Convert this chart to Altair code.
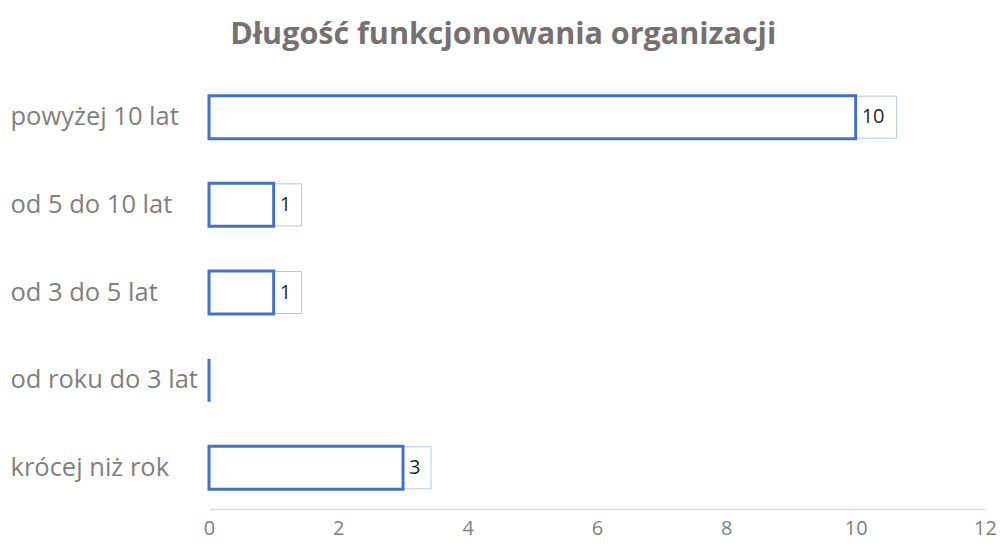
import altair as alt
import pandas as pd

categories = ["powyżej 10 lat", "od 5 do 10 lat", "od 3 do 5 lat", "od roku do 3 lat", "krócej niż rok"]
values = [10, 1, 1, 0, 3]
x_ticks = [0, 2, 4, 6, 8, 10, 12]

df = pd.DataFrame({"cat": categories, "value": values})
df["label"] = df["value"].astype(str)

FONT = "Open Sans"
GRAY = "#7F7F7F"

y_enc = alt.Y("cat:N", sort=categories, title=None,
              scale=alt.Scale(paddingInner=0.5, paddingOuter=0.22),
              axis=alt.Axis(labelAlign="left", labelPadding=199, ticks=False, domain=False,
                            labelFont=FONT, labelFontSize=25.5, labelColor=GRAY, labelLimit=300))
x_scale = alt.Scale(domain=[0, 12], nice=False)
x_enc = alt.X("value:Q", scale=x_scale, title=None,
              axis=alt.Axis(values=x_ticks, grid=False, ticks=False, domainColor="#D9D9D9",
                            domainWidth=1.5, labelFont=FONT, labelFontSize=20,
                            labelColor=GRAY, labelPadding=25, labelBaseline="alphabetic",
                            labelFlush=False))

base = alt.Chart(df)

boxes = base.transform_filter("datum.value > 0").transform_calculate(
    xend="datum.value + (15 + 13 * length(datum.label)) / 64.7"
).mark_bar(fill="white", stroke="#B4C7E7", strokeWidth=1, size=42).encode(
    y=y_enc, x=x_enc, x2="xend:Q"
)

bars = base.mark_bar(fill="white", stroke="#4472C4", strokeWidth=3, size=43).encode(
    y=y_enc, x=x_enc
)

texts = base.transform_filter("datum.value > 0").mark_text(
    align="left", dx=6, font=FONT, fontSize=20, color="#262626", baseline="middle"
).encode(y=y_enc, x=x_enc, text="label:N")

chart = alt.layer(boxes, bars, texts).properties(
    width=776, height=433,
    padding={"left": 201, "top": 68, "right": 12, "bottom": 30},
    autosize=alt.AutoSizeParams(type="none"),
    title=alt.TitleParams("Długość funkcjonowania organizacji", font=FONT, fontSize=30.5,
                          fontWeight="bold", color="#767171", anchor="middle", frame="bounds",
                          offset=26),
).configure_view(stroke=None)

chart.save("out.html", embed_options={"renderer": "svg", "actions": False})
